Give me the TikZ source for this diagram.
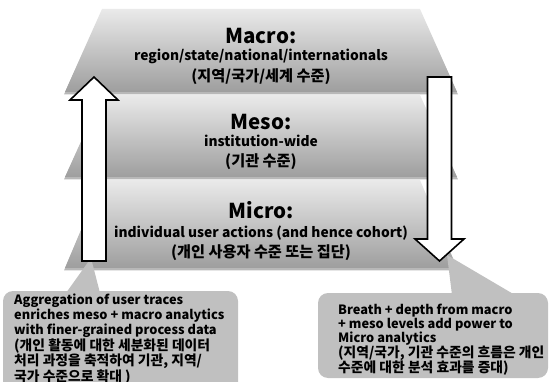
\documentclass[tikz,border=0pt]{standalone}
\usepackage{fontspec}
\setmainfont{Noto Sans CJK KR}
\definecolor{laytop}{RGB}{234,234,234}
\definecolor{laybot}{RGB}{158,158,158}
\definecolor{callgray}{RGB}{192,192,192}
\begin{document}
\begin{tikzpicture}[x=1pt,y=-1pt,
  layer/.style={top color=laytop,bottom color=laybot,draw=none},
  lshadow/.style={fill=black,opacity=0.28},
  callout/.style={fill=callgray,draw=none},
  bigarrow/.style={fill=white,draw=black,line width=1.6pt,line join=miter},
  headtxt/.style={font=\fontsize{20.5}{24}\selectfont\bfseries,anchor=base,inner sep=0pt},
  bodytxt/.style={font=\fontsize{13.8}{16}\selectfont\bfseries,anchor=base,inner sep=0pt},
  kortxt/.style={font=\fontsize{15.2}{17}\selectfont\bfseries,anchor=base,inner sep=0pt},
  ctext/.style={font=\fontsize{12.8}{15}\selectfont\bfseries,anchor=base west,inner sep=0pt},
  cktext/.style={font=\fontsize{13.8}{15}\selectfont\bfseries,anchor=base west,inner sep=0pt}]
\useasboundingbox (0,0) rectangle (549,382);
\clip (0,0) rectangle (549,382);
% layers
\foreach \ytop/\ybot in {9/92, 95/177, 180/268}{
  \fill[lshadow] (102,\ytop+2) -- (420,\ytop+2) -- (458,\ybot+2.5) -- (64,\ybot+2.5) -- cycle;
  \shade[layer] (102,\ytop) -- (420,\ytop) -- (457,\ybot) -- (65,\ybot) -- cycle;
}
% callouts
\fill[callout,rounded corners=10pt] (3,291) rectangle (238,400);
\fill[callout] (66,293) -- (91,258) -- (100,293) -- cycle;
\fill[callout,rounded corners=10pt] (318,293) rectangle (548,378);
\fill[callout] (452,295) -- (447,255) -- (515,295) -- cycle;
% arrows
\draw[bigarrow] (82,261) -- (82,100) -- (70,100) -- (94,77) -- (118,100) -- (106,100) -- (106,261) -- cycle;
\draw[bigarrow] (427.5,77) -- (451.5,77) -- (451.5,239) -- (464,239) -- (439.5,261) -- (415,239) -- (427.5,239) -- cycle;
% layer texts
\node[headtxt] (macroH) at (261,43.5) {Macro:};
\node[bodytxt] (macroA) at (261,61) {region/state/national/internationals};
\node[kortxt] (macroB) at (261,82) {(지역/국가/세계 수준)};
\node[headtxt] (mesoH) at (261,129.5) {Meso:};
\node[bodytxt] (mesoA) at (261,147) {institution-wide};
\node[kortxt] (mesoB) at (261,167) {(기관 수준)};
\node[headtxt] (microH) at (261,218.5) {Micro:};
\node[bodytxt] (microA) at (261,238) {individual user actions (and hence cohort)};
\node[kortxt] (microB) at (261,258) {(개인 사용자 수준 또는 집단)};
% callout texts (left)
\node[ctext] (lt1) at (14,305) {Aggregation of user traces};
\node[ctext] (lt2) at (14,319.5) {enriches meso + macro analytics};
\node[ctext] (lt3) at (14,334) {with finer-grained process data};
\node[cktext] (lt4) at (14,350) {(개인 활동에 대한 세분화된 데이터};
\node[cktext] (lt5) at (14,365.5) {처리 과정을 축적하여 기관, 지역/};
\node[cktext] (lt6) at (14,381) {국가 수준으로 확대 )};
% callout texts (right)
\node[ctext] (rt1) at (338,314.5) {Breath + depth from macro};
\node[ctext] (rt2) at (338,328.5) {+ meso levels add power to};
\node[ctext] (rt3) at (338,342.5) {Micro analytics};
\node[cktext] (rt4) at (338,357.5) {(지역/국가, 기관 수준의 흐름은 개인};
\node[cktext] (rt5) at (338,372) {수준에 대한 분석 효과를 증대)};
\end{tikzpicture}
\end{document}
